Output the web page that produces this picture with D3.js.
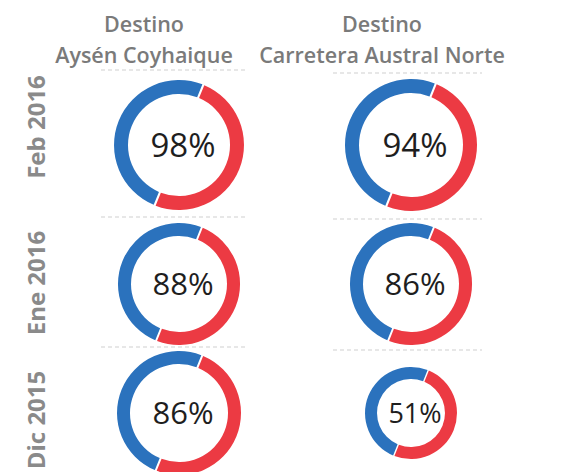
<!DOCTYPE html>
<html>
<head>
<meta charset="utf-8">
<script src="https://cdn.jsdelivr.net/npm/d3@7"></script>
<style>
    body { margin: 0; background: #fff; }
    svg { display: block; }
</style>
</head>
<body>
<div id="vis"></div>
<script>
// data
var destinations = ['Aysén Coyhaique', 'Carretera Austral Norte'];
var months = ['Feb 2016', 'Ene 2016', 'Dic 2015'];
var pctAysen = [98, 88, 86];
var pctNorte = [94, 86, 51];
var ringSplit = [50, 50]; // red, blue share of each ring

// layout
var width = 566, height = 472;
var colCenter = [179, 411];
var rowCenter = [145, 284, 413];
var radius = [[65, 66], [61, 61], [62, 46]];
var ringWidth = [[14, 14], [13, 13], [13, 12]];
var pctSize = [[33, 33], [31, 31], [31, 27]];
var rotation = 22 * Math.PI / 180;
var colors = ['#ec3a43', '#2b72bd'];

var svg = d3.select('#vis')
    .append('svg')
        .attr('width', width)
        .attr('height', height);

var xScale = d3.scaleOrdinal().domain(destinations).range(colCenter);
var yScale = d3.scaleOrdinal().domain(months).range(rowCenter);

// column titles
var titleX = [144, 382];
destinations.forEach(function(name, i) {
    var t = svg.append('text')
        .attr('text-anchor', 'middle')
        .attr('font-family', '"Open Sans", sans-serif')
        .attr('font-weight', 600)
        .attr('font-size', 21.5)
        .attr('fill', '#7a7a7a');
    t.append('tspan').attr('x', titleX[i]).attr('y', 32).text('Destino');
    t.append('tspan').attr('x', titleX[i]).attr('y', 63).text(name);
});

// row labels
var labelY = [127, 283, 420];
months.forEach(function(m, i) {
    svg.append('text')
        .attr('transform', 'translate(45,' + labelY[i] + ') rotate(-90)')
        .attr('text-anchor', 'middle')
        .attr('font-family', '"Open Sans", sans-serif')
        .attr('font-weight', 700)
        .attr('font-size', 24)
        .attr('fill', '#8a8a8a')
        .text(m);
});

// dashed separators
var sepY = [[70, 73], [217, 219], [347, 350]];
var sepX = [[101, 245], [333, 482]];
sepY.forEach(function(row) {
    row.forEach(function(y, c) {
        svg.append('line')
            .attr('x1', sepX[c][0]).attr('x2', sepX[c][1])
            .attr('y1', y).attr('y2', y)
            .attr('stroke', '#cfcfcf')
            .attr('stroke-width', 1.2)
            .attr('stroke-dasharray', '4,3');
    });
});

// donuts
var pie = d3.pie()
    .sort(null)
    .startAngle(rotation)
    .endAngle(rotation + 2 * Math.PI)
    .padAngle(0.025);

var cells = [];
months.forEach(function(m, r) {
    cells.push({dest: destinations[0], month: m, pct: pctAysen[r], r: r, c: 0});
    cells.push({dest: destinations[1], month: m, pct: pctNorte[r], r: r, c: 1});
});

var donut = svg.selectAll('.donut')
    .data(cells)
    .enter()
    .append('g')
        .attr('class', 'donut')
        .attr('transform', function(d) {
            return 'translate(' + xScale(d.dest) + ',' + yScale(d.month) + ')';
        });

donut.each(function(d) {
    var g = d3.select(this);
    var outer = radius[d.r][d.c];
    var arc = d3.arc()
        .outerRadius(outer)
        .innerRadius(outer - ringWidth[d.r][d.c]);
    g.selectAll('path')
        .data(pie(ringSplit))
        .enter()
        .append('path')
            .attr('d', arc)
            .attr('fill', function(s, i) { return colors[i]; });
    g.append('text')
        .attr('x', 4)
        .attr('y', 0)
        .attr('dy', '0.36em')
        .attr('text-anchor', 'middle')
        .attr('font-family', '"Open Sans", sans-serif')
        .attr('font-size', pctSize[d.r][d.c])
        .attr('fill', '#1e1e1e')
        .text(d.pct + '%');
});
</script>
</body>
</html>
